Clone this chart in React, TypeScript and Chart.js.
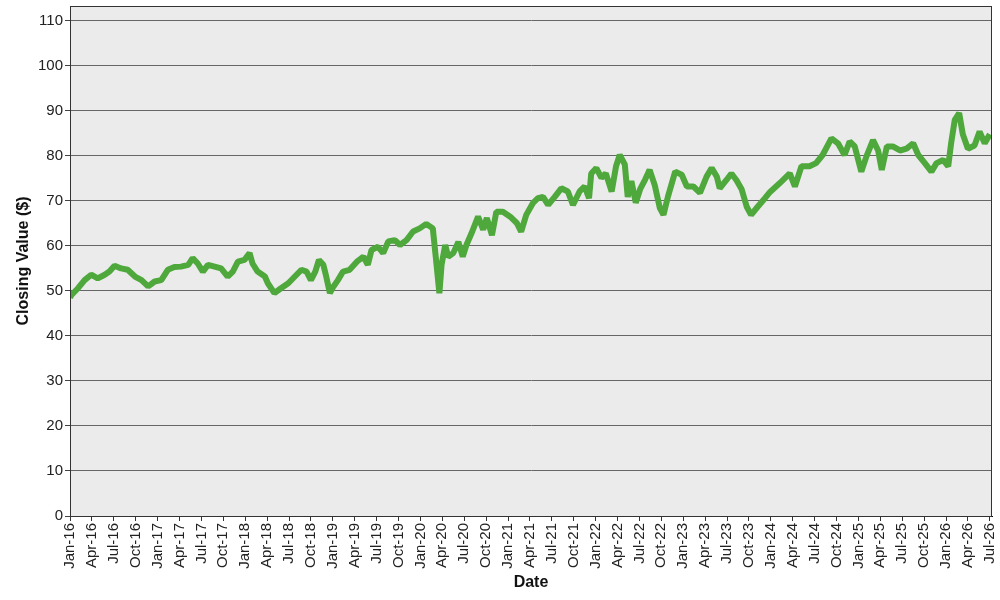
import React, { useEffect, useRef } from 'react';
import Chart from 'chart.js/auto';

// months since Jan-16 (decimal) and closing values
const months = [
  0.0, 0.2, 1.1, 2.0, 2.9, 3.8, 4.75, 5.4, 6.1, 7.0, 7.9, 8.9, 9.8, 10.7, 11.6,
  12.5, 13.4, 14.3, 15.2, 16.2, 16.8, 17.5, 18.2, 18.9, 19.8, 20.7, 21.6, 22.3,
  23.0, 23.9, 24.6, 25.0, 25.7, 26.7, 27.1, 28.0, 28.9, 29.9, 30.8, 31.7, 32.4,
  33.0, 33.6, 34.1, 34.7, 35.1, 35.6, 36.1, 36.7, 37.4, 38.3, 39.3, 40.2, 40.8,
  41.3, 42.2, 42.9, 43.6, 44.5, 45.2, 46.1, 47.0, 47.9, 48.8, 49.7, 50.1, 50.6,
  50.9, 51.4, 51.8, 52.5, 53.2, 53.8, 54.3, 55.0, 55.9, 56.6, 57.1, 57.8, 58.4,
  59.3, 60.3, 61.2, 61.8, 62.5, 63.4, 64.1, 64.8, 65.5, 66.4, 67.3, 68.2, 68.9,
  69.8, 70.5, 71.1, 71.4, 72.1, 72.8, 73.4, 74.2, 74.8, 75.3, 76.0, 76.4, 76.9,
  77.5, 78.1, 78.8, 79.4, 80.1, 80.8, 81.3, 81.9, 82.9, 83.8, 84.5, 85.4, 86.3,
  87.2, 87.9, 88.6, 89.0, 89.9, 90.6, 91.3, 92.0, 92.7, 93.3, 94.2, 95.2, 95.9,
  97.2, 98.6, 99.3, 100.2, 101.3, 102.2, 103.1, 104.3, 105.2, 106.1, 106.8,
  107.5, 108.2, 108.4, 109.1, 110.0, 110.7, 111.2, 111.9, 112.7, 113.7, 114.6,
  115.5, 116.2, 117.1, 118.0, 118.7, 119.6, 120.3, 120.7, 121.2, 121.8, 122.3,
  123.0, 123.9, 124.6, 125.3, 126.0,
];

const closingValues = [
  48.5, 49.1, 50.6, 52.4, 53.6, 52.8, 53.6, 54.3, 55.6, 55.0, 54.7, 53.2, 52.4, 51.0, 52.1,
  52.4, 54.7, 55.3, 55.4, 55.8, 57.3, 56.1, 54.3, 55.8, 55.4, 55.0, 53.2, 54.3,
  56.5, 56.9, 58.4, 56.1, 54.3, 53.2, 51.7, 49.5, 50.6, 51.7, 53.2, 54.7, 54.3,
  52.4, 54.3, 56.9, 55.8, 53.2, 49.5, 51.0, 52.4, 54.3, 54.7, 56.5, 57.6, 55.8,
  59.1, 59.8, 58.4, 61.0, 61.3, 60.2, 61.3, 63.2, 63.9, 64.9, 63.9, 57.6, 49.5,
  55.8, 60.2, 57.6, 58.4, 60.9, 57.6, 60.2, 62.8, 66.5, 63.6, 66.2, 62.4, 67.6,
  67.6, 66.5, 65.1, 63.2, 66.9, 69.5, 70.6, 70.9, 69.1, 70.9, 72.8, 72.1, 69.1,
  72.1, 73.2, 70.6, 76.1, 77.3, 75.1, 76.1, 72.1, 77.7, 80.2, 78.1, 70.9, 74.4,
  69.6, 72.6, 74.8, 76.9, 73.5, 68.4, 66.9, 70.9, 76.5, 75.8, 73.2, 73.2, 71.8,
  75.4, 77.3, 75.4, 72.8, 74.6, 76.1, 74.6, 72.6, 68.7, 66.9, 68.7, 70.6, 72.0,
  73.9, 76.1, 73.2, 77.7, 77.7, 78.4, 80.2, 83.9, 82.8, 80.2, 83.2,
  82.1, 77.7, 76.5, 79.9, 83.5, 81.2, 76.9, 82.1, 82.1, 81.2, 81.6,
  82.8, 80.2, 78.4, 76.5, 78.4, 79.1, 77.7, 82.8, 88.0, 89.5, 84.8,
  81.6, 82.3, 85.4, 82.8, 84.8,
];

const monthNames = ['Jan', 'Apr', 'Jul', 'Oct'];
const yTicks = [0, 10, 20, 30, 40, 50, 60, 70, 80, 90, 100, 110];

const plotFrame = {
  id: 'plotFrame',
  beforeDraw(chart: any) {
    const { ctx, chartArea: a } = chart;
    ctx.save();
    ctx.fillStyle = '#ebebeb';
    ctx.fillRect(a.left, a.top, a.right - a.left, a.bottom - a.top);
    ctx.restore();
  },
  afterDraw(chart: any) {
    const { ctx, chartArea: a } = chart;
    ctx.save();
    ctx.strokeStyle = '#333';
    ctx.lineWidth = 1;
    ctx.strokeRect(a.left + 0.5, a.top + 0.5, a.right - a.left - 1, a.bottom - a.top);
    ctx.restore();
  },
};

const App: React.FC = () => {
  const chartRef = useRef<HTMLCanvasElement | null>(null);

  useEffect(() => {
    document.body.style.margin = '0';
    let chart: Chart<'line'> | null = null;

    if (chartRef.current) {
      chart = new Chart(chartRef.current, {
        type: 'line',
        data: {
          datasets: [
            {
              label: 'Closing Value',
              data: months.map((m, i) => ({ x: m, y: closingValues[i] })),
              borderColor: '#4ea83c',
              borderWidth: 6,
              borderJoinStyle: 'bevel',
              pointRadius: 0,
              tension: 0,
              fill: false,
            },
          ],
        },
        options: {
          animation: false,
          responsive: false,
          devicePixelRatio: 1,
          layout: { padding: { top: 6, right: 8, left: 0, bottom: 0 } },
          plugins: { legend: { display: false }, tooltip: { enabled: false } },
          scales: {
            x: {
              type: 'linear',
              min: 0,
              max: 126.3,
              afterBuildTicks: (scale: any) => {
                const t = [];
                for (let m = 0; m <= 126; m += 3) t.push({ value: m });
                scale.ticks = t;
              },
              afterFit: (scale: any) => {
                scale.height = 84;
                scale.paddingLeft = 0;
                scale.paddingRight = 0;
              },
              ticks: {
                autoSkip: false,
                minRotation: 90,
                maxRotation: 90,
                padding: 2,
                color: '#222',
                font: { family: 'Liberation Sans, Arial', size: 15 },
                callback: (v: any) => {
                  const m = Number(v);
                  const yr = 16 + Math.floor(m / 12);
                  return monthNames[(m % 12) / 3] + '-' + yr;
                },
              },
              grid: { drawOnChartArea: false, tickLength: 5, tickColor: '#333' },
              border: { color: '#000' },
              title: {
                display: true,
                text: 'Date',
                color: '#111',
                padding: { top: 0, bottom: 8 },
                font: { family: 'Liberation Sans, Arial', size: 16, weight: 'bold' },
              },
            },
            y: {
              min: 0,
              max: 113.3,
              afterBuildTicks: (scale: any) => {
                scale.ticks = yTicks.map((v) => ({ value: v }));
              },
              afterFit: (scale: any) => {
                scale.width = 70;
                scale.paddingTop = 0;
                scale.paddingBottom = 0;
              },
              ticks: {
                padding: 2,
                color: '#222',
                font: { family: 'Liberation Sans, Arial', size: 15 },
              },
              grid: { color: '#666', tickLength: 5, tickColor: '#444' },
              border: { color: '#000' },
              title: {
                display: true,
                text: 'Closing Value ($)',
                color: '#111',
                padding: { top: 14, bottom: 0 },
                font: { family: 'Liberation Sans, Arial', size: 16, weight: 'bold' },
              },
            },
          },
        },
        plugins: [plotFrame],
      });
    }

    return () => {
      if (chart) {
        chart.destroy();
      }
    };
  }, []);

  return (
    <div style={{ width: 1000, height: 600, background: '#fff' }}>
      <canvas ref={chartRef} width={1000} height={600} />
    </div>
  );
};

export default App;
